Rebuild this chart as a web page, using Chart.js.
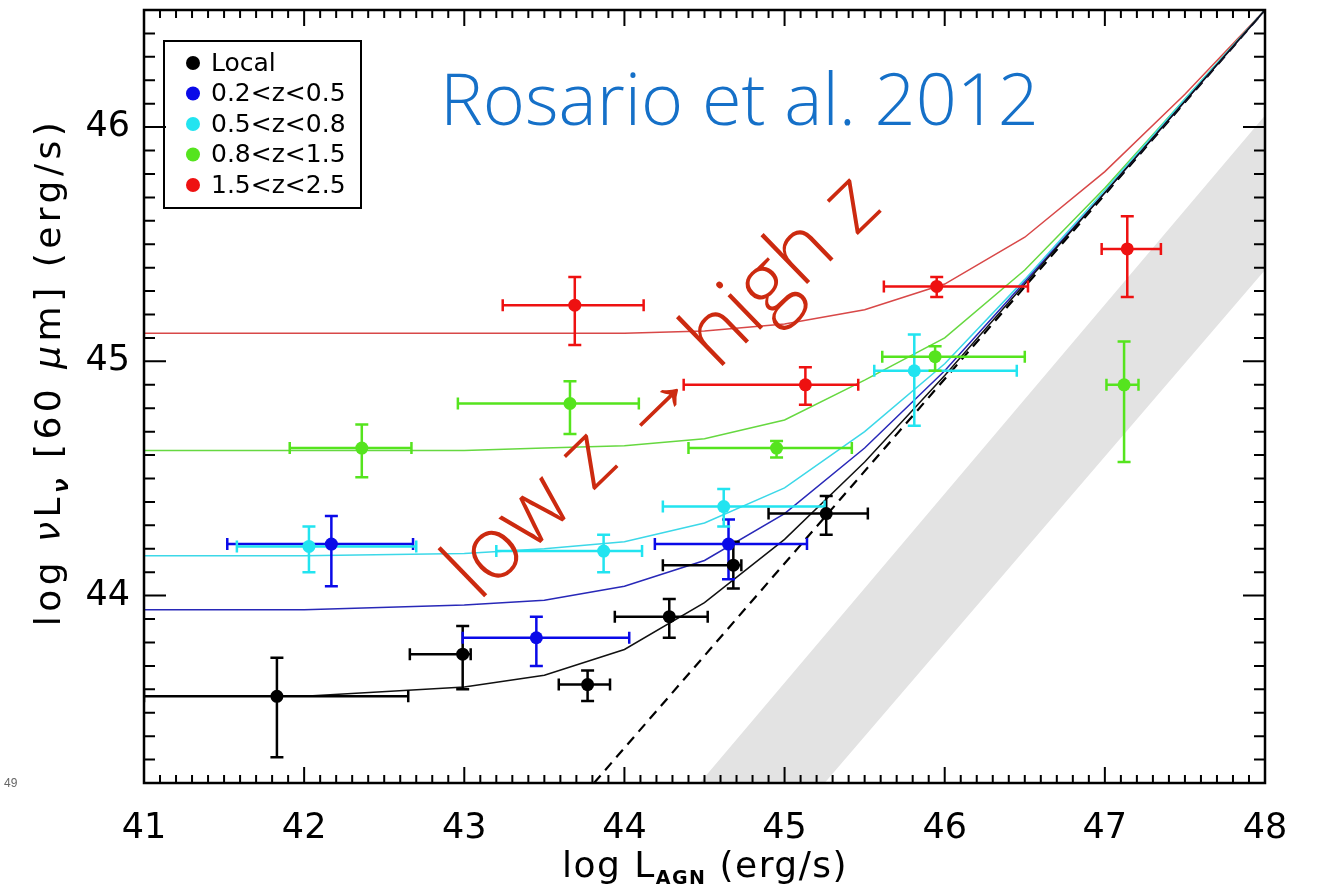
<!DOCTYPE html>
<html lang="en">
<head>
<meta charset="UTF-8">
<title>Rosario et al. 2012</title>
<script src="https://cdn.jsdelivr.net/npm/chart.js@4.4.0/dist/chart.umd.min.js"></script>
<style>
  html, body { margin: 0; padding: 0; background: #fff; }
  #wrap { width: 1317px; height: 896px; position: relative; }
</style>
</head>
<body>
<div id="wrap"><canvas id="c"></canvas></div>
<script>
const seriesNames = ['Local', '0.2<z<0.5', '0.5<z<0.8', '0.8<z<1.5', '1.5<z<2.5'];
const seriesColors = ['#000000', '#0a0ae8', '#22e4f0', '#55e41e', '#ee1111'];
const curveColors = ['#111111', '#2828b8', '#3cd8e8', '#66d840', '#d84848'];

// each point: [x, y, xErrLow, xErrHigh, yErrLow, yErrHigh]
const localPts = [
  [41.83, 43.57, 0.83, 0.82, 0.26, 0.165],
  [42.99, 43.75, 0.33, 0.05, 0.15, 0.12],
  [43.77, 43.62, 0.18, 0.14, 0.07, 0.06],
  [44.28, 43.91, 0.34, 0.24, 0.09, 0.075],
  [44.68, 44.13, 0.44, 0.05, 0.10, 0.10],
  [45.26, 44.35, 0.36, 0.26, 0.09, 0.075]
];
const lowzPts = [
  [42.17, 44.22, 0.65, 0.51, 0.18, 0.12],
  [43.45, 43.82, 0.46, 0.58, 0.12, 0.09],
  [44.65, 44.22, 0.46, 0.49, 0.15, 0.105]
];
const midzPts = [
  [42.03, 44.21, 0.45, 0.67, 0.11, 0.085],
  [43.87, 44.19, 0.67, 0.24, 0.09, 0.07],
  [44.62, 44.38, 0.38, 0.63, 0.085, 0.075],
  [45.81, 44.96, 0.25, 0.64, 0.235, 0.155]
];
const highzPts = [
  [42.36, 44.63, 0.45, 0.31, 0.125, 0.10],
  [43.66, 44.82, 0.70, 0.43, 0.13, 0.095],
  [44.95, 44.63, 0.55, 0.47, 0.04, 0.03],
  [45.94, 45.02, 0.33, 0.56, 0.06, 0.045],
  [47.12, 44.90, 0.11, 0.09, 0.33, 0.185]
];
const topzPts = [
  [43.69, 45.24, 0.45, 0.43, 0.17, 0.12],
  [45.13, 44.90, 0.76, 0.33, 0.085, 0.075],
  [45.95, 45.32, 0.33, 0.57, 0.045, 0.04],
  [47.14, 45.48, 0.16, 0.21, 0.205, 0.14]
];
const allPts = [localPts, lowzPts, midzPts, highzPts, topzPts];

// model curves read along x
const curveX     = [41, 42, 43, 43.5, 44, 44.5, 45, 45.5, 46, 46.5, 47, 47.5, 48];
const curveLocal = [43.57, 43.57, 43.61, 43.66, 43.77, 43.97, 44.24, 44.57, 44.94, 45.33, 45.72, 46.11, 46.5];
const curveLowz  = [43.94, 43.94, 43.96, 43.98, 44.04, 44.15, 44.35, 44.63, 44.96, 45.34, 45.72, 46.11, 46.5];
const curveMidz  = [44.17, 44.17, 44.18, 44.20, 44.23, 44.31, 44.46, 44.70, 44.99, 45.35, 45.73, 46.12, 46.5];
const curveHighz = [44.62, 44.62, 44.62, 44.63, 44.64, 44.67, 44.75, 44.92, 45.10, 45.39, 45.74, 46.12, 46.5];
const curveTopz  = [45.12, 45.12, 45.12, 45.12, 45.12, 45.13, 45.16, 45.22, 45.33, 45.53, 45.81, 46.14, 46.5];
const allCurves = [curveLocal, curveLowz, curveMidz, curveHighz, curveTopz];

const dashedLine = [[43.81, 43.2], [48, 46.5]];
const bandPoly = [[44.47, 43.2], [48, 46.05], [48, 45.39], [45.25, 43.2]];

const xTicks = [41, 42, 43, 44, 45, 46, 47, 48];
const yTicks = [44, 45, 46];

const toXY = arr => arr.map(p => ({x: p[0], y: p[1]}));

const datasets = [];
allPts.forEach((pts, i) => {
  datasets.push({
    label: seriesNames[i],
    data: toXY(pts),
    pointRadius: 6.5,
    pointBackgroundColor: seriesColors[i],
    pointBorderWidth: 0,
    showLine: false
  });
});
allCurves.forEach((c, i) => {
  datasets.push({
    label: seriesNames[i] + ' model',
    data: curveX.map((x, k) => ({x: x, y: c[k]})),
    showLine: true,
    borderColor: curveColors[i],
    borderWidth: 1.5,
    pointRadius: 0,
    tension: 0
  });
});
datasets.push({
  label: 'dashed',
  data: toXY(dashedLine),
  showLine: true,
  borderColor: '#000',
  borderWidth: 2.2,
  borderDash: [10, 7],
  pointRadius: 0
});
datasets.push({
  label: 'band',
  data: toXY(bandPoly),
  showLine: true,
  borderWidth: 0,
  borderColor: 'rgba(0,0,0,0)',
  backgroundColor: '#e3e3e3',
  fill: 'shape',
  pointRadius: 0
});

const lastCurveIndex = allPts.length; // drawn last among curves (lower index draws later)

function drawRich(ctx, parts, x0, y0, spacing) {
  ctx.letterSpacing = spacing + 'px';
  let w = 0;
  parts.forEach(p => { ctx.font = p[1]; w += ctx.measureText(p[0]).width; });
  let cx = x0 - w / 2;
  parts.forEach(p => {
    ctx.font = p[1];
    ctx.fillText(p[0], cx, y0 + p[2]);
    cx += ctx.measureText(p[0]).width;
  });
  ctx.letterSpacing = '0px';
}

const overlay = {
  id: 'overlay',
  afterDatasetDraw(chart, args) {
    if (args.index !== lastCurveIndex) return;
    const {ctx, chartArea, scales: {x, y}} = chart;
    ctx.save();
    ctx.beginPath();
    ctx.rect(chartArea.left, chartArea.top, chartArea.right - chartArea.left, chartArea.bottom - chartArea.top);
    ctx.clip();
    ctx.lineWidth = 2.5;
    allPts.forEach((pts, i) => {
      ctx.strokeStyle = seriesColors[i];
      pts.forEach(p => {
        const px = x.getPixelForValue(p[0]);
        const py = y.getPixelForValue(p[1]);
        const xl = x.getPixelForValue(p[0] - p[2]);
        const xr = x.getPixelForValue(p[0] + p[3]);
        const yb = y.getPixelForValue(p[1] - p[4]);
        const yt = y.getPixelForValue(p[1] + p[5]);
        ctx.beginPath();
        ctx.moveTo(xl, py); ctx.lineTo(xr, py);
        ctx.moveTo(px, yt); ctx.lineTo(px, yb);
        ctx.moveTo(xl, py - 6); ctx.lineTo(xl, py + 6);
        ctx.moveTo(xr, py - 6); ctx.lineTo(xr, py + 6);
        ctx.moveTo(px - 6.5, yt); ctx.lineTo(px + 6.5, yt);
        ctx.moveTo(px - 6.5, yb); ctx.lineTo(px + 6.5, yb);
        ctx.stroke();
      });
    });
    ctx.restore();
  },
  afterDraw(chart) {
    const {ctx, chartArea: a, scales: {x, y}} = chart;
    ctx.save();
    // frame
    ctx.strokeStyle = '#000';
    ctx.lineWidth = 2.5;
    ctx.strokeRect(a.left, a.top, a.right - a.left, a.bottom - a.top);
    // ticks, inward on all four sides
    ctx.lineWidth = 2;
    ctx.beginPath();
    for (let k = 410; k <= 480; k++) {
      const px = x.getPixelForValue(k / 10);
      const len = k % 10 === 0 ? 16 : 8;
      ctx.moveTo(px, a.bottom); ctx.lineTo(px, a.bottom - len);
      ctx.moveTo(px, a.top); ctx.lineTo(px, a.top + len);
    }
    for (let k = 433; k <= 465; k++) {
      const py = y.getPixelForValue(k / 10);
      const len = k % 10 === 0 ? 22 : 11;
      ctx.moveTo(a.left, py); ctx.lineTo(a.left + len, py);
      ctx.moveTo(a.right, py); ctx.lineTo(a.right - len, py);
    }
    ctx.stroke();

    // legend box
    ctx.lineWidth = 2;
    ctx.strokeRect(164, 41, 197, 167);
    ctx.font = '25px "DejaVu Sans"';
    ctx.textBaseline = 'middle';
    ctx.textAlign = 'left';
    seriesNames.forEach((n, i) => {
      const ly = 63 + i * 30.5;
      ctx.fillStyle = seriesColors[i];
      ctx.beginPath();
      ctx.arc(193, ly, 7, 0, Math.PI * 2);
      ctx.fill();
      ctx.fillStyle = '#000';
      ctx.fillText(n, 211, ly + 1);
    });

    // x title: log L_AGN (erg/s)
    ctx.fillStyle = '#000';
    ctx.textBaseline = 'alphabetic';
    const f1 = '36px "DejaVu Sans"', f2 = 'bold 19px "DejaVu Sans"';
    drawRich(ctx, [['log L', f1, 0], ['AGN', f2, 7], [' (erg/s)', f1, 0]], 705, 877, 1.5);

    // y title: log νL_ν [60 μm] (erg/s)
    ctx.save();
    ctx.translate(60, 372);
    ctx.rotate(-Math.PI / 2);
    const g1 = '36px "DejaVu Sans"', gi = 'italic 36px "DejaVu Sans"', gs = 'italic bold 21px "DejaVu Sans"';
    drawRich(ctx, [['log ', g1, 0], ['\u03bd', gi, 0], ['L', g1, 0], ['\u03bd', gs, 8],
                   [' [60 ', g1, 0], ['\u03bc', gi, 0], ['m] (erg/s)', g1, 0]], 0, 0, 4.5);
    ctx.restore();

    // annotations
    ctx.fillStyle = '#1570c8';
    ctx.font = '300 72px "Open Sans"';
    ctx.textAlign = 'left';
    ctx.fillText('Rosario et al. 2012', 440, 125);

    ctx.save();
    ctx.translate(664, 388);
    ctx.rotate(-0.77);
    ctx.fillStyle = '#cc2a10';
    ctx.font = '300 88px "Open Sans"';
    ctx.textAlign = 'center';
    ctx.textBaseline = 'middle';
    ctx.fillText('low z \u2192 high z', 0, 0);
    ctx.restore();

    ctx.fillStyle = '#666';
    ctx.font = '12px "Liberation Sans"';
    ctx.textAlign = 'left';
    ctx.fillText('49', 4, 787);
    ctx.restore();
  }
};

new Chart(document.getElementById('c'), {
  type: 'scatter',
  data: {datasets: datasets},
  options: {
    responsive: true,
    maintainAspectRatio: false,
    animation: false,
    events: [],
    layout: {padding: {left: 0, top: 10, right: 52, bottom: 0}},
    plugins: {
      legend: {display: false},
      tooltip: {enabled: false}
    },
    scales: {
      x: {
        type: 'linear',
        min: 41, max: 48,
        afterBuildTicks: s => { s.ticks = xTicks.map(v => ({value: v})); },
        afterFit: s => { s.height = 113; s.paddingLeft = 0; s.paddingRight = 0; },
        grid: {display: false, drawTicks: false},
        border: {display: false},
        ticks: {
          color: '#000',
          font: {family: 'DejaVu Sans', size: 35},
          padding: 25,
          maxRotation: 0,
          autoSkip: false
        }
      },
      y: {
        type: 'linear',
        min: 43.2, max: 46.5,
        afterBuildTicks: s => { s.ticks = yTicks.map(v => ({value: v})); },
        afterFit: s => { s.width = 144; s.paddingTop = 0; s.paddingBottom = 0; },
        grid: {display: false, drawTicks: false},
        border: {display: false},
        ticks: {
          color: '#000',
          font: {family: 'DejaVu Sans', size: 35},
          padding: 14
        }
      }
    }
  },
  plugins: [overlay]
});
</script>
</body>
</html>
